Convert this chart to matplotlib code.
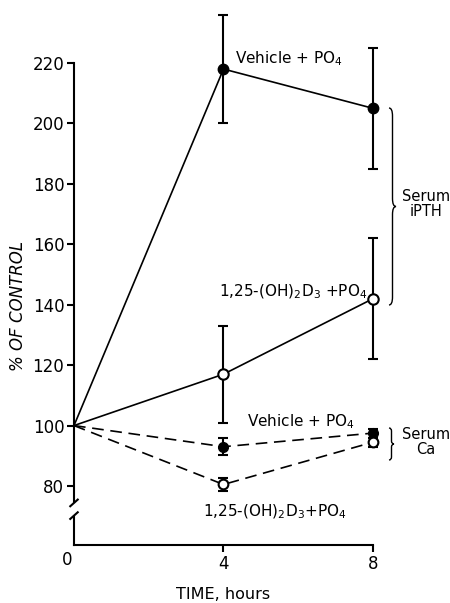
import matplotlib
matplotlib.use("Agg")
import matplotlib.pyplot as plt
from matplotlib.path import Path
from matplotlib.patches import PathPatch

plt.rcParams['font.family'] = ['DejaVu Sans']
plt.rcParams['mathtext.fontset'] = 'dejavusans'

hours = [0, 4, 8]

# serum iPTH, % of control
pth_vehicle = [100, 218, 205]
pth_vehicle_err = [0, 18, 20]
pth_d3 = [100, 117, 142]
pth_d3_err = [0, 16, 20]

# serum Ca, % of control
ca_vehicle = [100, 93, 97.5]
ca_vehicle_err = [0, 2.8, 1.5]
ca_d3 = [100, 80.5, 94.5]
ca_d3_err = [0, 2.3, 1.5]

yticks = [80, 100, 120, 140, 160, 180, 200, 220]
xticks = [4, 8]


def brace(fig, x, y0, y1, w, r):
    # right-pointing curly brace, given in figure pixels
    H, W = 603.0, 450.0
    ym = (y0 + y1) / 2.0
    xm = x + w / 2.0
    verts = [(x, y0), (xm, y0), (xm, y0 + r), (xm, ym - r),
             (xm, ym), (x + w, ym),
             (xm, ym), (xm, ym + r),
             (xm, y1 - r), (xm, y1), (x, y1)]
    codes = [Path.MOVETO, Path.CURVE3, Path.CURVE3, Path.LINETO,
             Path.CURVE3, Path.CURVE3,
             Path.CURVE3, Path.CURVE3,
             Path.LINETO, Path.CURVE3, Path.CURVE3]
    pts = [(vx / W, 1 - vy / H) for vx, vy in verts]
    fig.patches.append(PathPatch(Path(pts, codes), transform=fig.transFigure,
                                 fill=False, lw=1.0, color='black'))


fig = plt.figure(figsize=(4.5, 6.03), dpi=100)
ax = fig.add_axes([74 / 450, 1 - 545 / 603, 299 / 450, 482 / 603])

lw = 1.2
eb = dict(fmt='none', ecolor='black', capsize=3.8, elinewidth=1.5, capthick=1.5,
          clip_on=False, zorder=2)
dash = (0, (7, 4))

# iPTH
ax.errorbar(hours[1:], pth_vehicle[1:], yerr=pth_vehicle_err[1:], **eb)
ax.plot(hours, pth_vehicle, color='black', lw=lw, clip_on=False, zorder=3)
ax.plot(hours[1:], pth_vehicle[1:], 'o', ms=7.5, mfc='black', mec='black',
        clip_on=False, zorder=4)

ax.errorbar(hours[1:], pth_d3[1:], yerr=pth_d3_err[1:], **eb)
ax.plot(hours, pth_d3, color='black', lw=lw, clip_on=False, zorder=3)
ax.plot(hours[1:], pth_d3[1:], 'o', ms=7.5, mfc='white', mec='black', mew=1.5,
        clip_on=False, zorder=4)

# Ca
ax.errorbar(hours[1:], ca_vehicle[1:], yerr=ca_vehicle_err[1:], **eb)
ax.plot(hours, ca_vehicle, color='black', lw=lw, ls=dash, clip_on=False, zorder=3)
ax.plot(hours[1:], ca_vehicle[1:], 'o', ms=7, mfc='black', mec='black',
        clip_on=False, zorder=4)

ax.errorbar(hours[1:], ca_d3[1:], yerr=ca_d3_err[1:], **eb)
ax.plot(hours, ca_d3, color='black', lw=lw, ls=dash, clip_on=False, zorder=3)
ax.plot(hours[1:], ca_d3[1:], 'o', ms=7, mfc='white', mec='black', mew=1.5,
        clip_on=False, zorder=4)

ax.set_xlim(0, 8)
ax.set_ylim(60.47, 220)
ax.set_yticks(yticks)
ax.set_xticks(xticks)
ax.tick_params(axis='both', direction='out', length=5, width=1.5, labelsize=12, pad=2)
for s in ['top', 'right', 'left']:
    ax.spines[s].set_visible(False)
ax.spines['bottom'].set_linewidth(1.5)

# broken y axis
ax.plot([0, 0], [74.8, 220], color='black', lw=1.5, clip_on=False, zorder=5)
ax.plot([0, 0], [60.47, 69.8], color='black', lw=1.5, clip_on=False, zorder=5)
for yb in [74.4, 70.2]:
    ax.plot([-0.1, 0.1], [yb - 1.1, yb + 1.1], color='black', lw=1.5, clip_on=False)

ax.text(-0.18, 58.5, '0', ha='center', va='top', fontsize=12)

ax.set_ylabel('% OF CONTROL', fontsize=12, style='italic')
ax.yaxis.set_label_coords(-0.157, 0.496)
ax.set_xlabel('TIME, hours', fontsize=11.5, labelpad=10)

ax.text(4.3, 221.6, 'Vehicle + PO$_4$', ha='left', va='center', fontsize=11)
ax.text(7.84, 144.4, '1,25-(OH)$_2$D$_3$ +PO$_4$', ha='right', va='center', fontsize=11)
ax.text(4.62, 101.2, 'Vehicle + PO$_4$', ha='left', va='center', fontsize=11)
ax.text(3.45, 71.6, '1,25-(OH)$_2$D$_3$+PO$_4$', ha='left', va='center', fontsize=11)

fig.text(426 / 450, 1 - 204 / 603, 'Serum\niPTH', ha='center', va='center',
         fontsize=10.5, linespacing=1.0)
fig.text(426 / 450, 1 - 442 / 603, 'Serum\nCa', ha='center', va='center',
         fontsize=10.5, linespacing=1.0)
brace(fig, 389, 108, 305, 7, 8)
brace(fig, 389, 428, 460, 5, 3)

fig.savefig('out.png', dpi=100)
